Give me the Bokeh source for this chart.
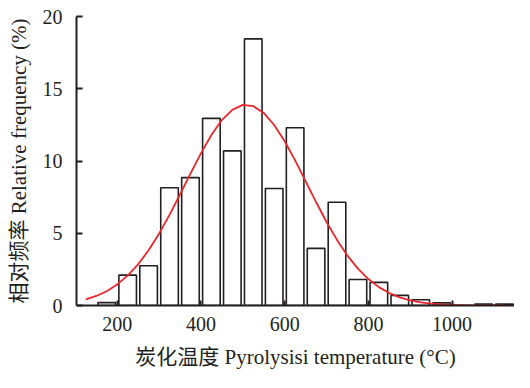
from bokeh.plotting import figure
from bokeh.models import Range1d, FixedTicker
from bokeh.embed import file_html
from bokeh.resources import INLINE

# Histogram bins (bin centres, °C) and relative frequency (%)
bin_centers = [175, 225, 275, 325, 375, 425, 475, 525, 575, 625,
               675, 725, 775, 825, 875, 925, 975, 1025, 1075, 1125]
frequency = [0.2, 2.1, 2.75, 8.15, 8.85, 12.95, 10.7, 18.45, 8.1, 12.3,
             3.95, 7.15, 1.8, 1.6, 0.7, 0.4, 0.18, 0.0, 0.1, 0.1]

# Fitted distribution curve
curve_x = [125, 150, 175, 200, 225, 250, 275, 300, 325, 350, 375, 400,
           425, 450, 475, 500, 525, 550, 575, 600, 625, 650, 675, 700,
           725, 750, 775, 800, 825, 850, 875, 900, 925, 950, 975, 1000,
           1025, 1050, 1075, 1100, 1125]
curve_y = [0.42, 0.66, 0.99, 1.46, 2.07, 2.85, 3.82, 4.97, 6.27, 7.68, 9.13, 10.53,
           11.80, 12.83, 13.54, 13.88, 13.80, 13.33, 12.49, 11.37, 10.04, 8.61, 7.16, 5.78,
           4.54, 3.45, 2.55, 1.83, 1.27, 0.86, 0.56, 0.36, 0.22, 0.13, 0.08, 0.04,
           0.02, 0.01, 0.01, 0.0, 0.0]

x_ticks = [200, 400, 600, 800, 1000]
y_ticks = [0, 5, 10, 15, 20]

x_label = "炭化温度 Pyrolysisi temperature (°C)"
y_label = "相对频率 Relative frequency (%)"

INK = "#231f20"
FONT = "'Liberation Serif', 'Noto Sans CJK SC'"

p = figure(width=514, height=372,
           x_range=Range1d(102.8, 1149), y_range=Range1d(0, 20),
           output_backend="svg", toolbar_location=None,
           min_border_left=76, min_border_right=0,
           min_border_top=16, min_border_bottom=67)

p.outline_line_color = None
p.grid.visible = False
p.background_fill_color = "white"
p.border_fill_color = "white"

p.vbar(x=bin_centers, top=frequency, bottom=0, width=42,
       fill_color=None, line_color=INK, line_width=1.6)
p.line(curve_x, curve_y, line_color="#e8262b", line_width=1.8)

for ax in (p.xaxis[0], p.yaxis[0]):
    ax.axis_line_color = INK
    ax.axis_line_width = 2
    ax.major_tick_line_color = INK
    ax.major_tick_line_width = 2
    ax.major_tick_out = 0
    ax.minor_tick_in = 0
    ax.minor_tick_out = 0
    ax.major_label_text_font = "Liberation Serif"
    ax.major_label_text_font_size = "20px"
    ax.major_label_text_color = INK
    ax.axis_label_text_font = FONT
    ax.axis_label_text_font_size = "21px"
    ax.axis_label_text_font_style = "normal"
    ax.axis_label_text_color = INK

p.xaxis.ticker = FixedTicker(ticks=x_ticks)
p.yaxis.ticker = FixedTicker(ticks=y_ticks)
p.xaxis.major_tick_in = 5
p.yaxis.major_tick_in = 6
p.xaxis.major_label_standoff = 11
p.yaxis.major_label_standoff = 14
p.xaxis.axis_label = x_label
p.yaxis.axis_label = y_label
p.xaxis.axis_label_standoff = 11
p.yaxis.axis_label_standoff = 9

open("out.html", "w").write(file_html(p, INLINE))
